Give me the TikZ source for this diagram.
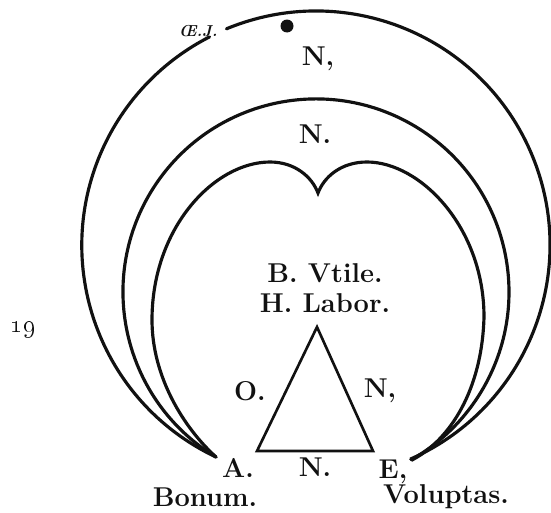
\documentclass[tikz,border=0pt]{standalone}
\usepackage{tikz}
\definecolor{inkblack}{HTML}{111111}
\tikzset{
    curveline/.style={draw=inkblack, line width=1.8pt, line cap=round},
    triline/.style={draw=inkblack, line width=1.5pt, line join=miter},
    letter/.style={font=\fontsize{15.5}{18}\selectfont\bfseries, text=inkblack, inner sep=0pt, anchor=base},
    smallmark/.style={font=\fontsize{9}{10}\selectfont\itshape\bfseries, text=inkblack, inner sep=0pt},
    blot/.style={circle, fill=inkblack, inner sep=0pt, minimum size=0.26cm}
}

\begin{document}
\begin{tikzpicture}[x=0.02cm, y=0.02cm]
    \useasboundingbox (0,0) rectangle (551,512);

    \coordinate (A) at (216,55);
    \coordinate (E) at (412,52);
    \coordinate (outc) at (316,267);
    \coordinate (midc) at (316,220);
    \path (outc) ++(112.5:234) coordinate (gapR);
    \coordinate (sideL) at (152,192);
    \coordinate (lobeL) at (270,350);
    \coordinate (dip) at (318,319);
    \coordinate (lobeR) at (367,350);
    \coordinate (sideR) at (484,195);
    \coordinate (apex) at (317,185);
    \coordinate (baseL) at (257,61);
    \coordinate (baseR) at (373,61);

    \draw[curveline] (A) arc[start angle=244.75, end angle=117, radius=234];
    \draw[curveline] (gapR) arc[start angle=112.5, end angle=-65.9, radius=234] -- (E);
    \draw[curveline] (A) arc[start angle=238.8, end angle=-60.3, radius=193] -- (E);
    \draw[curveline] (A) .. controls (184,84) and (152,135) .. (sideL)
        .. controls (152,285) and (215,350) .. (lobeL)
        .. controls (295,350) and (312,335) .. (dip)
        .. controls (324,335) and (341,350) .. (lobeR)
        .. controls (420,350) and (484,285) .. (sideR)
        .. controls (482,122) and (450,72) .. (E);
    \draw[triline] (apex) -- (baseL) -- (baseR) -- cycle;

    \node[smallmark] (oej) at (198,481) {Œ.J.};
    \node[blot] (spot) at (287,486) {};
    \node[letter] (ntop) at (318,447) {N,};
    \node[letter] (nmid) at (315,369) {N.};
    \node[letter] (vtile) at (325,230) {B. Vtile.};
    \node[letter] (labor) at (325,200) {H. Labor.};
    \node[letter] (oleft) at (250,112) {O.};
    \node[letter] (nright) at (380,115) {N,};
    \node[letter] (nbase) at (315,36) {N.};
    \node[letter] (alabel) at (238,35) {A.};
    \node[letter] (elabel) at (393,34) {E,};
    \node[letter] (bonum) at (205,6) {Bonum.};
    \node[letter] (voluptas) at (446,9) {Voluptas.};
    \node[letter] (pageno) at (23,180) {\oldstylenums{19}};
\end{tikzpicture}
\end{document}
